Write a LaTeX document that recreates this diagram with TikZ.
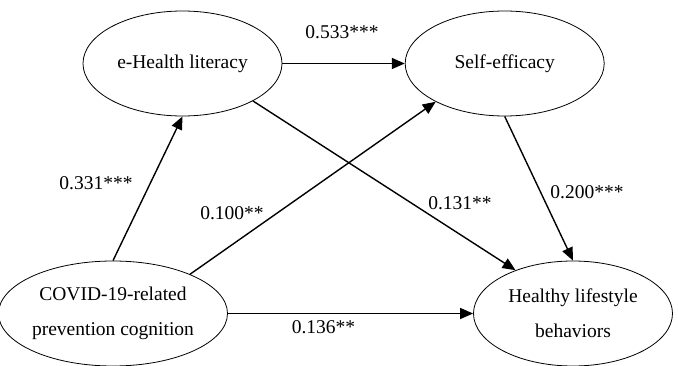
\documentclass[tikz,border=0pt]{standalone}
\usepackage{fontspec}
\setmainfont{Liberation Serif}
\usetikzlibrary{shapes.geometric,arrows.meta}
\begin{document}
\begin{tikzpicture}[x=1pt,y=1pt,
  latent/.style={ellipse,draw,line width=0.8pt,minimum width=199pt,minimum height=105pt,inner sep=0pt,align=center,font=\fontsize{19.5}{35}\selectfont},
  path/.style={draw,line width=1.4pt,-{Triangle[length=13pt,width=11pt]}},
  coef/.style={inner sep=0pt,font=\fontsize{19.5}{23}\selectfont}]
\definecolor{fillColor}{RGB}{255,255,255}
\path[use as bounding box,fill=fillColor] (0,0) rectangle (678,365);

% constructs
\node[latent] (ehealth) at (182.5,301.5) {e-Health literacy};
\node[latent] (selfeff) at (504.7,301.5) {Self-efficacy};
\node[latent] (covid) at (113,51.5) {COVID-19-related\\prevention cognition};
\node[latent] (healthy) at (573,51.5) {Healthy lifestyle\\behaviors};

% paths
\path[path] (ehealth.east) -- (selfeff.west);
\path[path] (covid.north) -- (ehealth.south);
\path[path] (covid.27) -- (selfeff.209);
\path[path] (ehealth.332.6) -- (healthy.143);
\path[path] (selfeff.south) -- (healthy.north);
\path[path] (covid.east) -- (healthy.west);

% coefficients
\node[coef] (c533) at (342,333) {0.533***};
\node[coef] (c331) at (96,182) {0.331***};
\node[coef] (c100) at (232,152) {0.100**};
\node[coef] (c131) at (460,162) {0.131**};
\node[coef] (c200) at (587,173) {0.200***};
\node[coef] (c136) at (323.5,38) {0.136**};
\end{tikzpicture}
\end{document}
